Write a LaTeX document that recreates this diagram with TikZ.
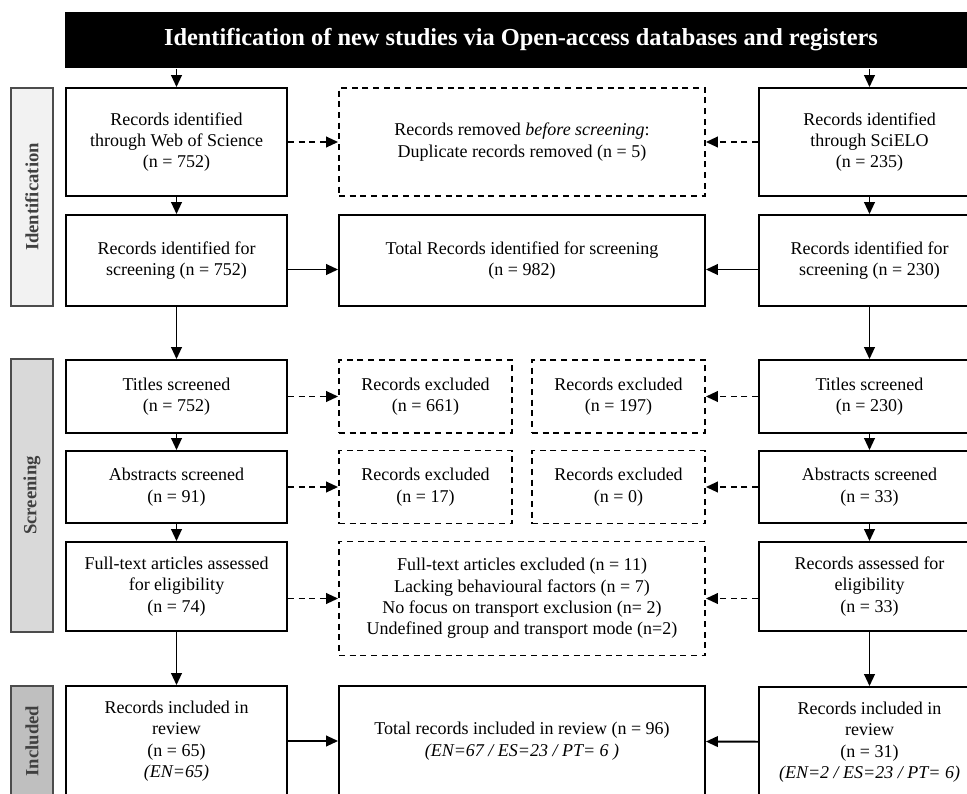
\documentclass[tikz,border=0pt]{standalone}
\usepackage{fontspec}
\setmainfont{Liberation Serif}
\usetikzlibrary{arrows.meta}

\tikzset{
  box/.style={draw, line width=1.4pt, align=center, inner sep=2pt, font=\fontsize{13.5}{16}\selectfont},
  sidebox/.style={box, minimum width=165.75pt},
  midbox/.style={box, minimum width=274.5pt},
  exbox/.style={box, dsh, minimum width=129.75pt, minimum height=54.75pt},
  dsh/.style={dash pattern=on 4.5pt off 3.5pt},
  bar/.style={draw=black!70, line width=0.9pt, rotate=90, minimum height=31.5pt, text=black!75, font=\fontsize{14}{16}\selectfont\bfseries},
}

\begin{document}
\begin{tikzpicture}[x=0.75pt, y=-0.75pt, ->, >={Triangle[length=9pt,width=8pt]}, line width=1.4pt]
\useasboundingbox (0,0) rectangle (967,793);
\clip (0,0) rectangle (967,793);

% heading
\node[fill=black, minimum width=684pt, minimum height=42pt, text=white, font=\fontsize{18.3}{20}\selectfont\bfseries] (hdr) at (521,40) {Identification of new studies via Open-access databases and registers};

% phases
\node[bar, fill=black!5, minimum width=163.5pt] (idbar) at (32,197) {Identification};
\node[bar, fill=black!15, minimum width=204.75pt] (scbar) at (32,495.5) {Screening};
\node[bar, fill=black!25, minimum width=82.5pt] (inbar) at (32,741) {Included};

% Web of Science
\node[sidebox, minimum height=81pt] (wos) at (176.5,142) {Records identified\\through Web of Science\\(n = 752)};
\node[sidebox, minimum height=68.25pt] (scr752) at (176.5,260.5) {Records identified for\\screening (n = 752)};
\node[sidebox, minimum height=54.75pt] (tit752) at (176.5,396.5) {Titles screened\\(n = 752)};
\node[sidebox, minimum height=54pt] (abs91) at (176.5,487) {Abstracts screened\\(n = 91)};
\node[sidebox, minimum height=66.75pt] (ft74) at (176.5,586.5) {Full-text articles assessed\\for eligibility\\(n = 74)};
\node[sidebox, minimum height=82.5pt] (inc65) at (176.5,741) {Records included in\\review\\(n = 65)\\\textit{(EN=65)}};

% SciELO
\node[sidebox, minimum height=81pt] (scielo) at (869.5,142) {Records identified\\through SciELO\\(n = 235)};
\node[sidebox, minimum height=68.25pt] (scr230) at (869.5,260.5) {Records identified for\\screening (n = 230)};
\node[sidebox, minimum height=54.75pt] (tit230) at (869.5,396.5) {Titles screened\\(n = 230)};
\node[sidebox, minimum height=54pt] (abs33) at (869.5,487) {Abstracts screened\\(n = 33)};
\node[sidebox, minimum height=66.75pt] (ass33) at (869.5,586.5) {Records assessed for\\eligibility\\(n = 33)};
\node[sidebox, minimum height=82.5pt] (inc31) at (869.5,742) {Records included in\\review\\(n = 31)\\\textit{(EN=2 / ES=23 / PT= 6)}};

% middle
\node[midbox, dsh, minimum height=81pt] (removed) at (522,142) {Records removed \textit{before screening}:\\Duplicate records removed (n = 5)};
\node[midbox, minimum height=68.25pt] (totid) at (522,260.5) {Total Records identified for screening\\(n = 982)};
\node[exbox] (exc661) at (425.5,396.5) {Records excluded\\(n = 661)};
\node[exbox] (exc197) at (618.5,396.5) {Records excluded\\(n = 197)};
\node[exbox] (exc17) at (425.5,487) {Records excluded\\(n = 17)};
\node[exbox] (exc0) at (618.5,487) {Records excluded\\(n = 0)};
\node[midbox, dsh, minimum height=85.5pt] (ftexc) at (522,598.5) {Full-text articles excluded (n = 11)\\Lacking behavioural factors (n = 7)\\No focus on transport exclusion (n= 2)\\Undefined group and transport mode (n=2)};
\node[midbox, minimum height=82.5pt] (totinc) at (522,741) {Total records included in review (n = 96)\\\textit{(EN=67 / ES=23 / PT= 6 )}};

\path (wos |- hdr.south) edge (wos);
\path (scielo |- hdr.south) edge (scielo);
\path (wos) edge [dsh] (removed);
\path (scielo) edge [dsh] (removed);
\path (wos) edge (scr752);
\path (scielo) edge (scr230);
\path ([yshift=-6.75pt]scr752.east) edge ([yshift=-6.75pt]totid.west);
\path ([yshift=-6.75pt]scr230.west) edge ([yshift=-6.75pt]totid.east);

\path (scr752) edge (tit752);
\path (tit752) edge (abs91);
\path (abs91) edge (ft74);
\path (ft74) edge (inc65);
\path (scr230) edge (tit230);
\path (tit230) edge (abs33);
\path (abs33) edge (ass33);
\path (ass33) edge (inc31);

\path (tit752) edge [dsh] (exc661);
\path (tit230) edge [dsh] (exc197);
\path (abs91) edge [dsh] (exc17);
\path (abs33) edge [dsh] (exc0);
\path (ft74.east |- ftexc.west) edge [dsh] (ftexc.west);
\path (ass33.west |- ftexc.east) edge [dsh] (ftexc.east);

\path (inc65) edge (totinc);
\path (inc31) edge (totinc);
\end{tikzpicture}
\end{document}
